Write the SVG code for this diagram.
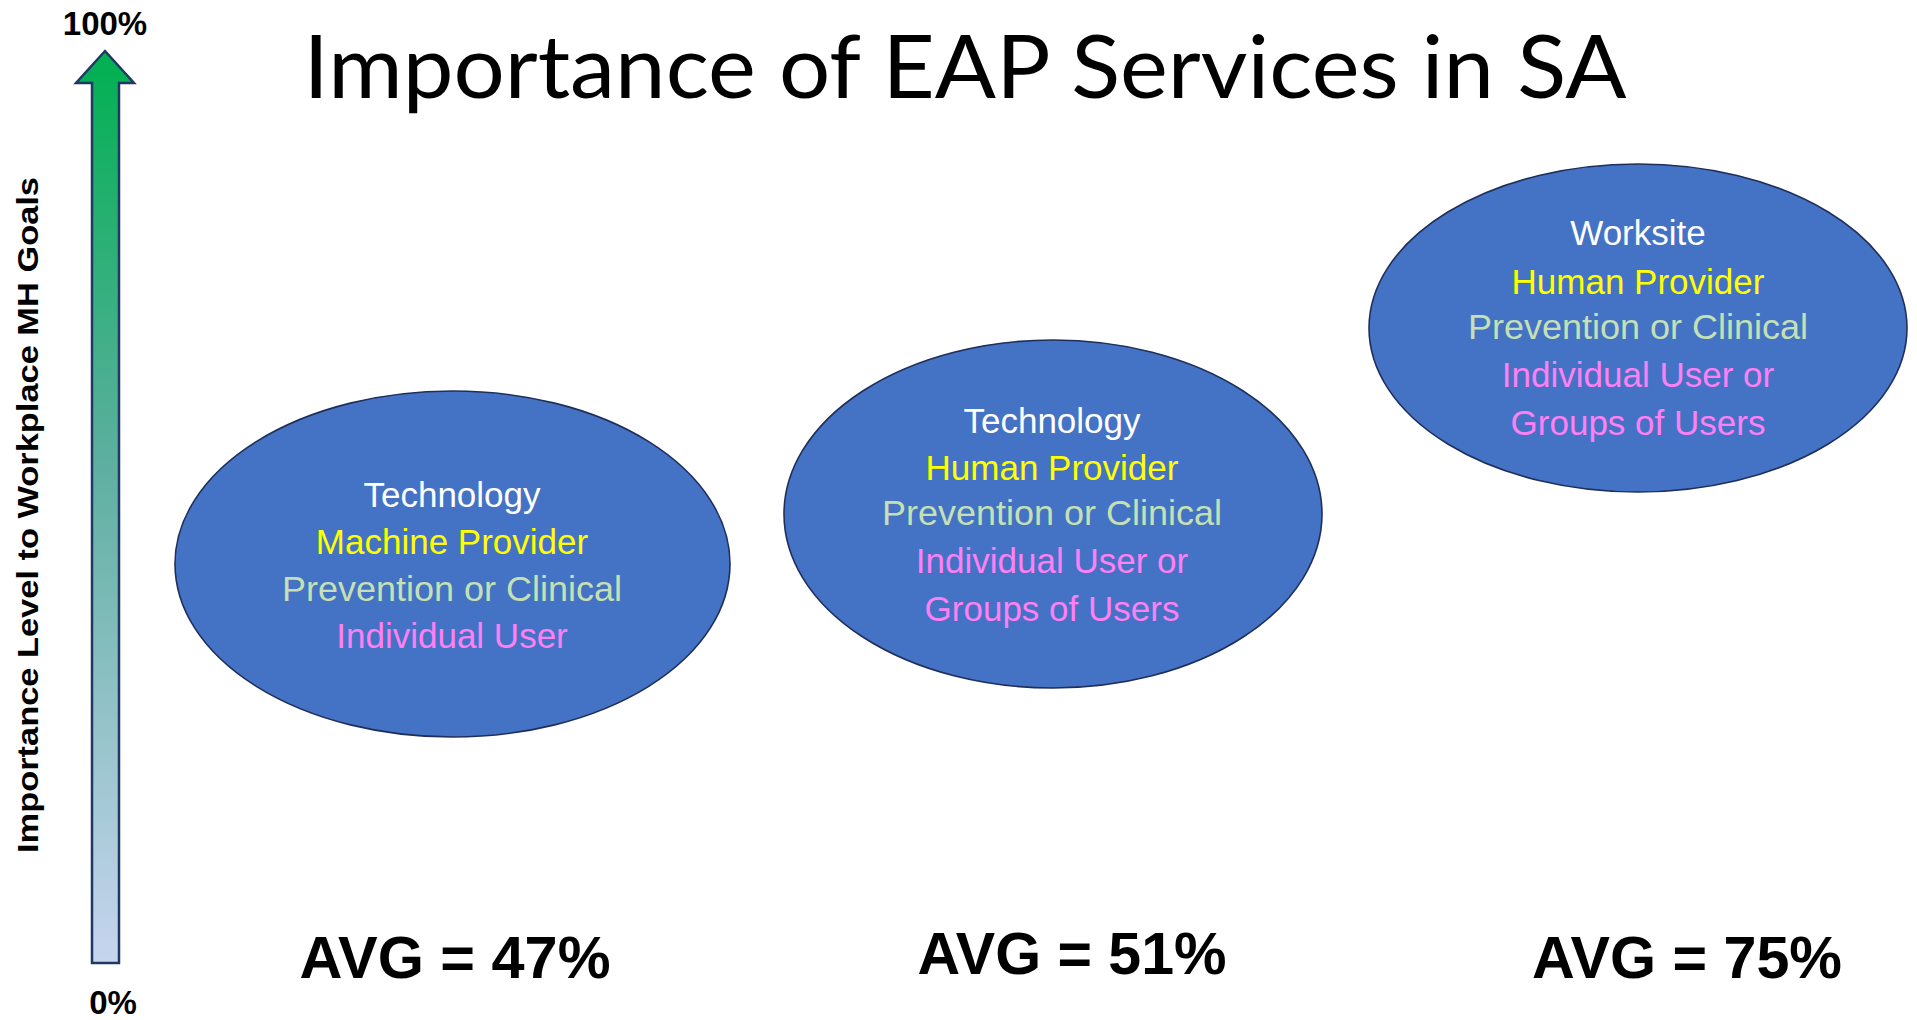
<svg xmlns="http://www.w3.org/2000/svg" width="1917" height="1020" viewBox="0 0 1917 1020">
<defs>
<linearGradient id="axisGrad" x1="0" y1="51" x2="0" y2="963" gradientUnits="userSpaceOnUse">
<stop offset="0" stop-color="#00B050"/>
<stop offset="0.45" stop-color="#5DAFA0"/>
<stop offset="1" stop-color="#C7D5EF"/>
</linearGradient>
</defs>
<style>
.bg{fill:#FFFFFF}
.oval{fill:#4472C4;stroke:#1F2F5A;stroke-width:1.6}
.t{font-family:"Liberation Sans",Arial,sans-serif;font-size:35px;text-anchor:middle}
.w{fill:#FFFFFF}
.y{fill:#FFFF00}
.g{fill:#C5E0B4}
.p{fill:#FF80F4}
.avg{font-family:"Liberation Sans",Arial,sans-serif;font-weight:bold;font-size:59px;text-anchor:middle;fill:#000}
.lbl{font-family:"Liberation Sans",Arial,sans-serif;font-weight:bold;font-size:33px;text-anchor:middle;fill:#000}
.vlbl{font-family:"Liberation Sans",Arial,sans-serif;font-weight:bold;font-size:30px;text-anchor:middle;fill:#000}
.title{font-family:Lato,"Liberation Sans",sans-serif;font-size:88px;text-anchor:middle;fill:#000}
</style>
<rect class="bg" x="0" y="0" width="1917" height="1020"/>
<text class="title" x="965" y="98" textLength="1323" lengthAdjust="spacingAndGlyphs">Importance of EAP Services in SA</text>
<g id="axis">
<path d="M105,51 L134,83 L119,83 L119,963 L92,963 L92,83 L76,83 Z" fill="url(#axisGrad)" stroke="#1F3864" stroke-width="2.5" stroke-linejoin="miter"/>
<text class="lbl" x="105" y="35">100%</text>
<text class="lbl" x="113" y="1014">0%</text>
<text class="vlbl" transform="translate(38,515) rotate(-90)" textLength="676" lengthAdjust="spacingAndGlyphs">Importance Level to Workplace MH Goals</text>
</g>
<g id="node1">
<ellipse class="oval" cx="452.5" cy="564" rx="277.5" ry="173"/>
<text class="t w" x="452" y="507">Technology</text>
<text class="t y" x="452" y="554">Machine Provider</text>
<text class="t g" x="452" y="601" textLength="340" lengthAdjust="spacingAndGlyphs">Prevention or Clinical</text>
<text class="t p" x="452" y="648">Individual User</text>
</g>
<g id="node2">
<ellipse class="oval" cx="1053" cy="514" rx="269" ry="174"/>
<text class="t w" x="1052" y="433">Technology</text>
<text class="t y" x="1052" y="480">Human Provider</text>
<text class="t g" x="1052" y="525" textLength="340" lengthAdjust="spacingAndGlyphs">Prevention or Clinical</text>
<text class="t p" x="1052" y="573">Individual User or</text>
<text class="t p" x="1052" y="621">Groups of Users</text>
</g>
<g id="node3">
<ellipse class="oval" cx="1638" cy="328" rx="269" ry="164"/>
<text class="t w" x="1638" y="245">Worksite</text>
<text class="t y" x="1638" y="294">Human Provider</text>
<text class="t g" x="1638" y="339" textLength="340" lengthAdjust="spacingAndGlyphs">Prevention or Clinical</text>
<text class="t p" x="1638" y="387">Individual User or</text>
<text class="t p" x="1638" y="435">Groups of Users</text>
</g>
<g id="averages">
<text class="avg" x="455" y="978" textLength="311" lengthAdjust="spacingAndGlyphs">AVG = 47%</text>
<text class="avg" x="1072" y="974" textLength="309" lengthAdjust="spacingAndGlyphs">AVG = 51%</text>
<text class="avg" x="1687" y="978" textLength="310" lengthAdjust="spacingAndGlyphs">AVG = 75%</text>
</g>
<g id="connectors"></g>
</svg>
